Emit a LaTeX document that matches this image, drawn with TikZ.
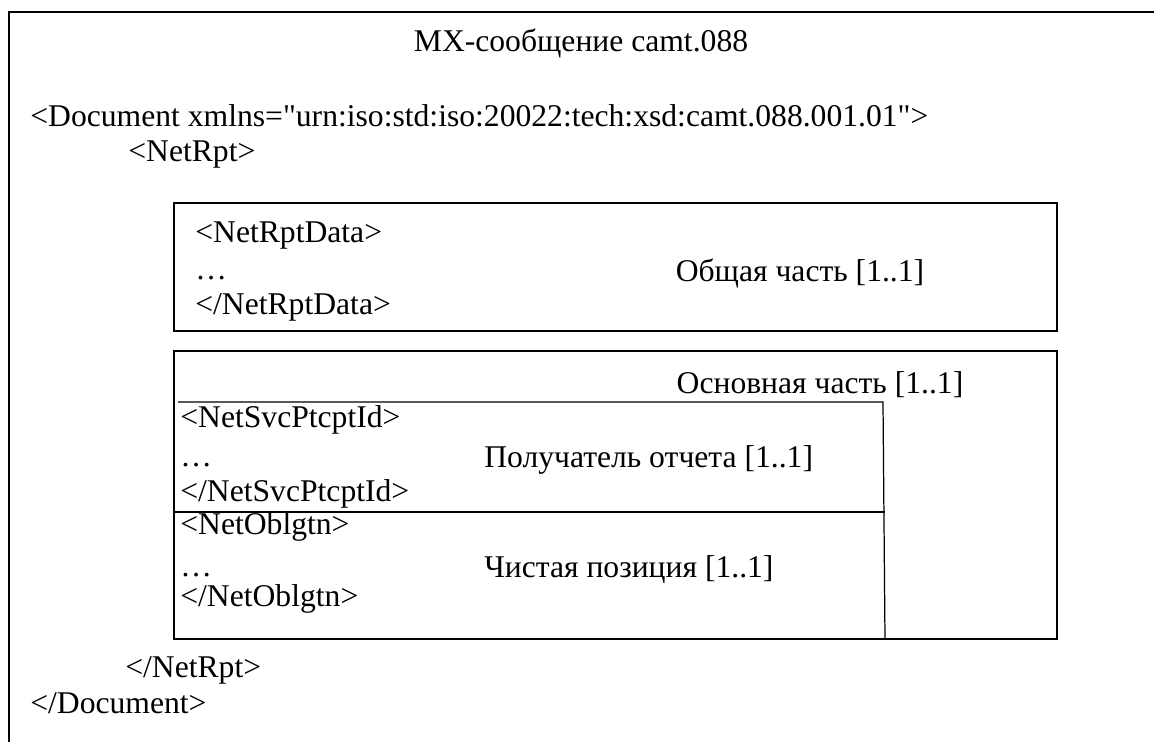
\documentclass[tikz,border=0pt]{standalone}
\usepackage{fontspec}
\setmainfont{Liberation Serif}
\usepackage{tikz}
\usetikzlibrary{positioning}

\begin{document}
\begin{tikzpicture}[x=0.02cm,y=-0.02cm,
    txt/.style={anchor=west,inner sep=0pt,text height=12.5pt,text depth=4pt,font=\fontsize{18}{21}\selectfont},
    lbl/.style={anchor=center,inner sep=0pt,text height=12.5pt,text depth=4pt,font=\fontsize{18}{21}\selectfont},
    frame/.style={draw,line width=1pt},
    part/.style={draw,line width=0.7pt}]

    \useasboundingbox (0,0) rectangle (1154,742);

    % outer frame
    \draw[frame] (9,742) -- (9,12) -- (1154,12);

    \node[lbl] (title) at (581,44.5) {MX-сообщение camt.088};
    \node[txt] (doc) at (30,119.5) {<Document xmlns=\textquotedbl urn:iso:std:iso:20022:tech:xsd:camt.088.001.01\textquotedbl>};
    \node[txt] (rpt) at (128,154.5) {<NetRpt>};

    % common part
    \draw[frame] (174,203) rectangle (1057,331);
    \node[txt] (data1) at (195,235.5) {<NetRptData>};
    \node[txt] (data2) at (195,272.5) {\dots};
    \node[txt] (data3) at (195,307.5) {</NetRptData>};
    \node[lbl] (common) at (800,274) {Общая часть [1..1]};

    % main part
    \draw[frame] (174,351) rectangle (1057,639);
    \node[lbl] (main) at (820,386) {Основная часть [1..1]};
    \draw[part] (178,402) -- (883,402) -- (885,639);
    \draw[part] (174,512) -- (885,512);

    \node[txt] (svc1) at (180,420.5) {<NetSvcPtcptId>};
    \node[txt] (svc2) at (180,459.5) {\dots};
    \node[txt] (svc3) at (180,494.5) {</NetSvcPtcptId>};
    \node[txt] (recip) at (484,460) {Получатель отчета [1..1]};

    \node[txt] (obl1) at (180,527.5) {<NetOblgtn>};
    \node[txt] (obl2) at (180,569.5) {\dots};
    \node[txt] (obl3) at (180,599.5) {</NetOblgtn>};
    \node[txt] (pos) at (484,570) {Чистая позиция [1..1]};

    \node[txt] (rptend) at (125,670) {</NetRpt>};
    \node[txt] (docend) at (30,706) {</Document>};

\end{tikzpicture}
\end{document}
